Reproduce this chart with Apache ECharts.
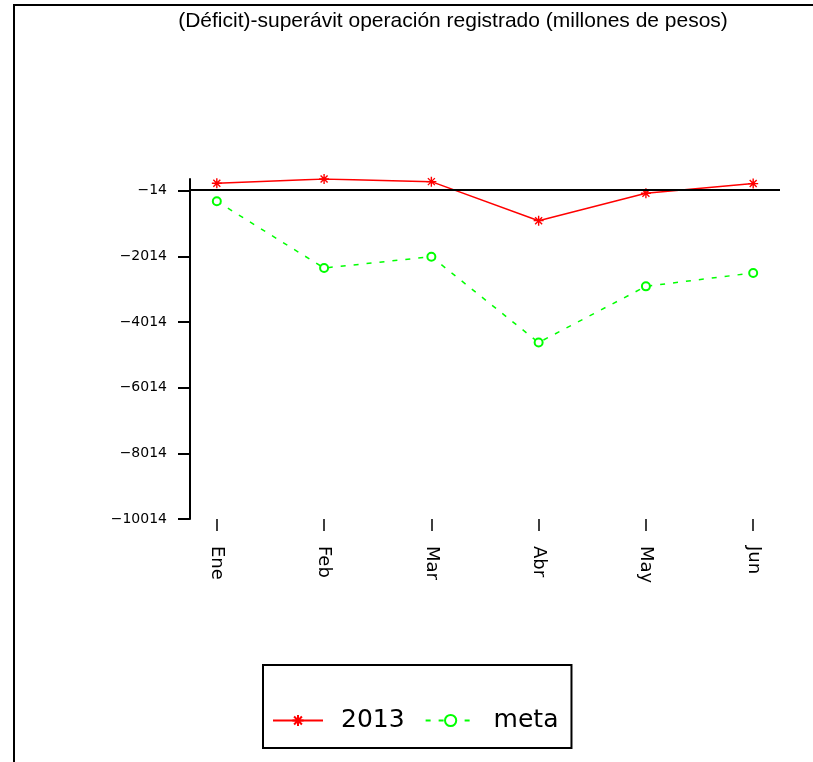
<!DOCTYPE html>
<html>
<head>
<meta charset="utf-8">
<script src="https://cdn.jsdelivr.net/npm/echarts@6/dist/echarts.min.js"></script>
<style>
  html, body { margin: 0; padding: 0; background: #fff; }
  #chart { width: 813px; height: 762px; }
</style>
</head>
<body>
<div id="chart"></div>
<script>
// Monthly operating balance, millions of pesos
const months = ['Ene', 'Feb', 'Mar', 'Abr', 'May', 'Jun'];
const registrado2013 = [209, 340, 260, -929, -96, 200];
const meta = [-340, -2371, -2026, -4640, -2929, -2520];
const yTicks = [-10014, -8014, -6014, -4014, -2014, -14];
const monthTicks = [1, 2, 3, 4, 5, 6];
const titleText = '(Déficit)-superávit operación registrado (millones de pesos)';
const seriesNames = ['2013', 'meta'];

const toPoints = arr => arr.map((v, i) => [monthTicks[i], v]);
const yMax = Math.max(...registrado2013, ...meta);

// star made of crossing strokes
const starPath = 'path://M5,0 L5,10 M0,5 L10,5 M1.5,1.5 L8.5,8.5 M8.5,1.5 L1.5,8.5';
const axisFont = 'DejaVu Sans';

const chart = echarts.init(document.getElementById('chart'), null, { renderer: 'canvas' });
chart.setOption({
  animation: false,
  backgroundColor: '#fff',
  graphic: [
    { type: 'line', shape: { x1: 14, y1: 5, x2: 813, y2: 5 }, style: { stroke: '#000', lineWidth: 2 } },
    { type: 'line', shape: { x1: 14, y1: 4, x2: 14, y2: 762 }, style: { stroke: '#000', lineWidth: 2 } },
    {
      type: 'text', x: 453, y: 21,
      style: {
        text: titleText, fill: '#000', font: '21px "Liberation Sans"',
        align: 'center', verticalAlign: 'middle', textAlign: 'center', textVerticalAlign: 'middle'
      }
    }
  ],
  grid: { left: 190, right: 33, top: 179, bottom: 243, containLabel: false },
  xAxis: {
    type: 'value', min: 0.75, max: 6.25,
    axisLine: { show: false, onZero: false },
    axisTick: { show: true, length: 12, customValues: monthTicks, lineStyle: { color: '#000', width: 1.5 } },
    axisLabel: {
      customValues: monthTicks, rotate: -90, margin: 27,
      formatter: v => months[Math.round(v) - 1],
      fontFamily: axisFont, fontSize: 18, color: '#000'
    },
    splitLine: { show: false }
  },
  yAxis: {
    type: 'value', min: -10014, max: yMax,
    axisLine: { show: true, onZero: false, lineStyle: { color: '#000', width: 2 } },
    axisTick: { show: true, length: 12, customValues: yTicks, lineStyle: { color: '#000', width: 2 } },
    axisLabel: {
      customValues: yTicks, margin: 23,
      formatter: v => String(v).replace('-', '\u2212'),
      fontFamily: axisFont, fontSize: 14, color: '#000'
    },
    splitLine: { show: false }
  },
  legend: {
    left: 263, top: 665,
    itemWidth: 50, itemHeight: 14, itemGap: 20,
    padding: [43, 13, 15, 9],
    borderColor: '#000', borderWidth: 2,
    textStyle: { fontFamily: axisFont, fontSize: 25, color: '#000', padding: [0, 0, 0, 13] },
    data: seriesNames
  },
  series: [
    {
      name: seriesNames[0], type: 'line', data: toPoints(registrado2013),
      symbol: starPath, symbolSize: 10,
      lineStyle: { color: '#ff0000', width: 1.5 },
      itemStyle: { color: '#ff0000', borderColor: '#ff0000', borderWidth: 1.4 },
      z: 3,
      markLine: {
        silent: true, symbol: 'none', label: { show: false },
        lineStyle: { color: '#000', width: 2, type: 'solid' },
        data: [{ yAxis: 0 }]
      }
    },
    {
      name: seriesNames[1], type: 'line', data: toPoints(meta),
      symbol: 'emptyCircle', symbolSize: 8,
      lineStyle: { color: '#00ff00', width: 1.5, type: [5, 8] },
      itemStyle: { color: '#00ff00', borderColor: '#00ff00', borderWidth: 1.5 },
      z: 3
    }
  ]
});
</script>
</body>
</html>
